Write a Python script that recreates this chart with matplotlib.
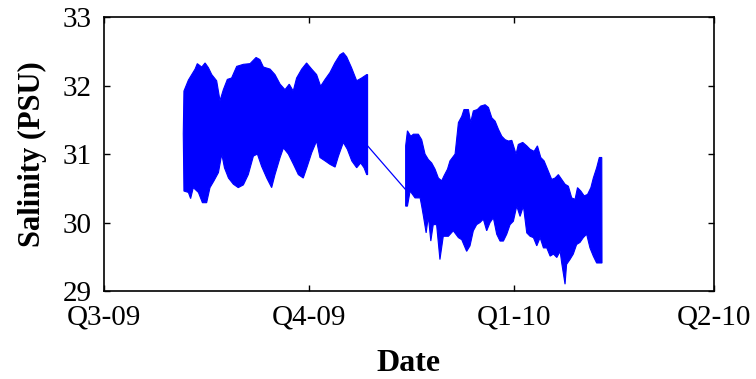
#!/usr/bin/env python3
"""Salinity time series (tidal band) recreated as upper/lower envelopes."""

import datetime as dt
import numpy as np
import matplotlib
matplotlib.use("Agg")
import matplotlib.pyplot as plt
import matplotlib.dates as mdates

# days counted from 1 July 2009
BASE = dt.datetime(2009, 7, 1)

# deployment 1: upper and lower envelope of the tidal signal
seg1_up_day = [35.6, 35.9, 37.9, 40.9, 41.9, 43.9, 45.4, 46.9, 48.4, 50.6, 52.1,
               53.6, 55.4, 57.3, 59.6, 62.6, 65.6, 68.3, 70.0, 71.6, 74.6, 76.8,
               79.1, 81.3, 83.2, 85.0, 86.5, 88.8, 91.0, 93.3, 95.5, 97.3, 99.3,
               101.5, 103.7, 106.0, 107.5, 109.0, 111.2, 113.5, 115.7, 118.0, 118.4]
seg1_up_val = [31.30, 31.92, 32.08, 32.24, 32.32, 32.27, 32.33, 32.26, 32.16, 32.07,
               31.78, 31.94, 32.09, 32.11, 32.28, 32.31, 32.32, 32.41, 32.38, 32.27,
               32.24, 32.16, 32.02, 31.94, 32.02, 31.92, 32.11, 32.24, 32.33, 32.24,
               32.16, 31.99, 32.09, 32.19, 32.33, 32.45, 32.48, 32.42, 32.26, 32.07,
               32.11, 32.16, 32.16]
seg1_lo_day = [35.9, 37.9, 38.9, 40.1, 42.4, 44.2, 46.1, 47.6, 49.4, 51.4, 52.9,
               54.1, 55.9, 58.1, 60.3, 62.6, 64.8, 67.1, 68.9, 70.8, 73.1, 75.3,
               76.8, 79.1, 80.6, 82.8, 85.1, 87.3, 89.5, 91.3, 93.3, 95.5, 97.0,
               99.3, 101.5, 103.8, 105.3, 107.5, 109.3, 111.3, 113.5, 115.3, 116.8,
               118.0, 118.4]
seg1_lo_val = [30.46, 30.44, 30.35, 30.51, 30.44, 30.29, 30.29, 30.51, 30.61, 30.73,
               31.00, 30.80, 30.65, 30.56, 30.51, 30.55, 30.70, 30.97, 31.00, 30.82,
               30.65, 30.51, 30.70, 30.95, 31.09, 31.00, 30.85, 30.70, 30.65, 30.82,
               31.02, 31.19, 30.95, 30.90, 30.85, 30.81, 30.97, 31.17, 31.07, 30.90,
               30.80, 30.87, 30.80, 30.70, 30.70]

# straight line across the data gap
gap_day = [118.4, 135.5]
gap_val = [31.12, 30.48]

# deployment 2
seg2_up_day = [135.5, 136.3, 137.8, 139.0, 141.2, 142.7, 144.2, 145.7, 147.2, 148.7,
               150.2, 151.7, 152.7, 154.3, 155.4, 157.7, 159.2, 160.7, 161.7, 163.7,
               164.7, 165.9, 167.7, 169.2, 171.2, 172.7, 174.2, 175.7, 177.2, 178.7,
               180.2, 181.7, 183.2, 185.1, 186.1, 188.1, 189.9, 191.4, 193.2, 194.7,
               196.2, 197.7, 199.6, 201.1, 202.6, 204.1, 205.6, 207.1, 208.6, 210.1,
               211.6, 212.7, 214.2, 215.7, 217.2, 218.7, 219.8, 221.3, 222.5, 223.6]
seg2_up_val = [31.12, 31.34, 31.26, 31.29, 31.29, 31.21, 31.00, 30.92, 30.87, 30.78,
               30.65, 30.61, 30.68, 30.78, 30.90, 31.00, 31.46, 31.55, 31.65, 31.65,
               31.46, 31.63, 31.65, 31.70, 31.72, 31.68, 31.53, 31.48, 31.36, 31.26,
               31.21, 31.19, 31.20, 31.00, 31.14, 31.17, 31.12, 31.07, 31.04, 31.12,
               30.95, 30.90, 30.75, 30.63, 30.65, 30.70, 30.63, 30.56, 30.53, 30.36,
               30.34, 30.51, 30.46, 30.39, 30.41, 30.51, 30.65, 30.80, 30.95, 30.95]
seg2_lo_day = [135.5, 136.3, 137.5, 139.7, 142.0, 142.7, 143.5, 144.7, 145.7, 146.8,
               147.9, 149.4, 150.9, 152.4, 154.7, 156.9, 159.2, 160.7, 162.9, 164.4,
               165.9, 167.4, 168.9, 170.4, 171.9, 173.4, 174.9, 176.4, 177.9, 179.4,
               180.9, 182.4, 183.9, 185.4, 186.9, 188.4, 189.9, 191.4, 192.9, 194.4,
               195.9, 197.4, 198.9, 200.4, 201.9, 203.4, 204.9, 205.6, 207.1, 207.8,
               209.3, 210.8, 212.3, 213.8, 215.3, 216.8, 218.3, 219.8, 221.3, 222.8,
               223.7]
seg2_lo_val = [30.24, 30.24, 30.46, 30.36, 30.36, 30.24, 30.09, 29.85, 30.09, 29.73,
               29.97, 29.97, 29.46, 29.80, 29.80, 29.88, 29.78, 29.75, 29.58, 29.66,
               29.88, 29.97, 30.00, 30.05, 29.88, 30.00, 30.07, 29.83, 29.73, 29.73,
               29.83, 29.97, 30.02, 30.24, 30.09, 30.24, 29.85, 29.80, 29.78, 29.66,
               29.78, 29.63, 29.63, 29.51, 29.54, 29.49, 29.58, 29.41, 29.10, 29.39,
               29.46, 29.54, 29.68, 29.71, 29.78, 29.83, 29.63, 29.51, 29.41, 29.41,
               29.41]

quarter_ticks = [dt.datetime(2009, 7, 1), dt.datetime(2009, 10, 1),
                 dt.datetime(2010, 1, 1), dt.datetime(2010, 4, 1)]
quarter_labels = ["Q3-09", "Q4-09", "Q1-10", "Q2-10"]
y_ticks = [29, 30, 31, 32, 33]


def to_dates(days):
    return [BASE + dt.timedelta(days=d) for d in days]


def draw_band(ax, up_day, up_val, lo_day, lo_val):
    xs = to_dates(up_day) + to_dates(lo_day)[::-1]
    ys = list(up_val) + list(lo_val)[::-1]
    ax.fill(mdates.date2num(xs), ys, facecolor="#0000ff", edgecolor="#0000ff",
            linewidth=0.8)


plt.rcParams["font.family"] = ["Liberation Serif", "DejaVu Serif"]

fig = plt.figure(figsize=(7.56, 3.79), dpi=100)
ax = fig.add_axes([0.1376, 0.232, 0.8068, 0.723])

draw_band(ax, seg1_up_day, seg1_up_val, seg1_lo_day, seg1_lo_val)
ax.plot(mdates.date2num(to_dates(gap_day)), gap_val, color="#0000ff", linewidth=0.9)
draw_band(ax, seg2_up_day, seg2_up_val, seg2_lo_day, seg2_lo_val)

ax.set_xlim(mdates.date2num(quarter_ticks[0]), mdates.date2num(quarter_ticks[-1]))
ax.set_ylim(29, 33)
ax.set_xticks(mdates.date2num(quarter_ticks))
ax.set_xticklabels(quarter_labels)
ax.set_yticks(y_ticks)

ax.tick_params(direction="in", length=4, width=1, top=True, right=True,
               labelsize=21)
ax.tick_params(axis="y", pad=9)
ax.tick_params(axis="x", pad=10)
for s in ax.spines.values():
    s.set_linewidth(1.2)

ax.set_xlabel("Date", fontsize=23, fontweight="bold", labelpad=13)
ax.set_ylabel("Salinity (PSU)", fontsize=22, fontweight="bold", labelpad=11)

fig.savefig("out.png", dpi=100)
